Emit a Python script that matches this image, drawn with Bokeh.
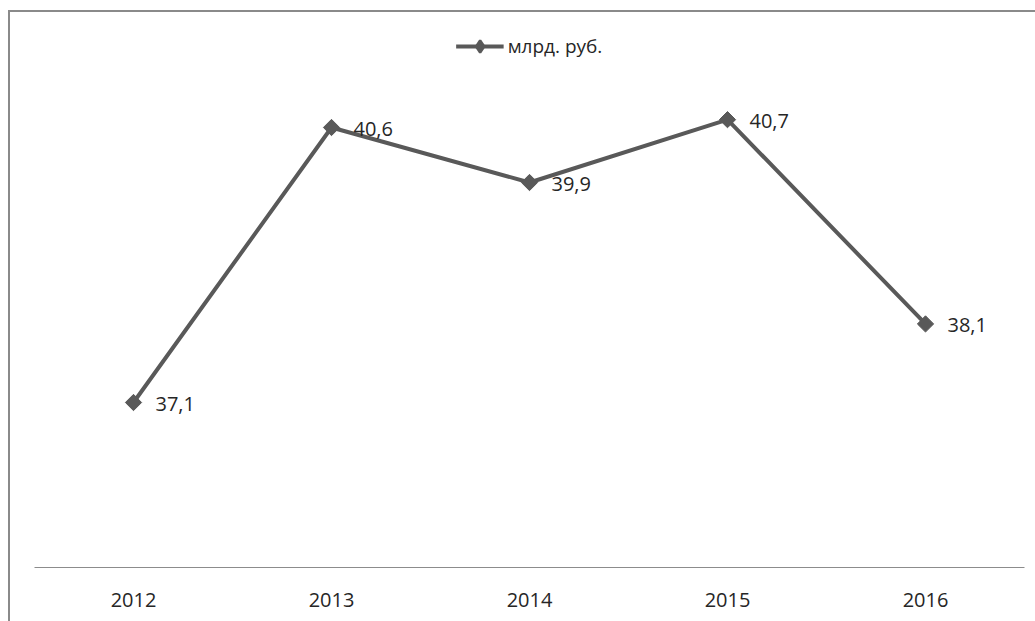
import math
from bokeh.plotting import figure
from bokeh.models import FactorRange, Range1d, ColumnDataSource, Legend, LegendItem
from bokeh.core.properties import value
from bokeh.embed import file_html
from bokeh.resources import INLINE

years = ["2012", "2013", "2014", "2015", "2016"]
values = [37.1, 40.6, 39.9, 40.7, 38.1]
labels = ["37,1", "40,6", "39,9", "40,7", "38,1"]
series_name = "млрд. руб."

src = ColumnDataSource(dict(x=years, y=values, t=labels))

FONT = "Open Sans"
COL = "#595959"

p = figure(width=1027, height=611, output_backend="svg", toolbar_location=None,
           x_range=FactorRange(*years, range_padding=0), y_range=Range1d(35, 42),
           min_border_left=24, min_border_right=13, min_border_top=5, min_border_bottom=56)
p.styles = {"border-top": "2px solid #8a8a8a", "border-left": "2px solid #8a8a8a",
            "margin-top": "10px", "margin-left": "8px"}
p.outline_line_color = None
p.xgrid.visible = False
p.ygrid.visible = False
p.yaxis.visible = False

ax = p.xaxis[0]
ax.axis_line_color = "#8c8c8c"
ax.axis_line_width = 1
ax.major_tick_line_color = None
ax.minor_tick_line_color = None
ax.major_label_standoff = 19
ax.major_label_text_font = FONT
ax.major_label_text_font_size = "20px"
ax.major_label_text_color = "#262626"

line_r = p.line("x", "y", source=src, line_color=COL, line_width=4)
p.scatter("x", "y", source=src, marker="square", angle=math.pi / 4, size=11.5,
          fill_color=COL, line_color=COL)
# legend-only diamond marker (legend ignores marker angle)
leg_marker = p.scatter("x", "y", source=src, marker="diamond", size=12,
                       fill_color=COL, line_color=COL, line_width=2.5, visible=False)

p.text("x", "y", text="t", source=src, x_offset=22, y_offset=1, text_baseline="middle",
       text_align="left", text_font=value(FONT), text_font_size="20px", text_color="#262626")

lg = Legend(items=[LegendItem(label=series_name, renderers=[line_r, leg_marker])],
            location="top_center", orientation="horizontal")
lg.border_line_color = None
lg.background_fill_alpha = 0
lg.glyph_width = 48
lg.glyph_height = 30
lg.label_height = 30
lg.label_text_font = FONT
lg.label_text_font_size = "19px"
lg.label_text_color = "#262626"
lg.label_standoff = 4
lg.margin = 14
lg.padding = 5
p.add_layout(lg, "center")

open("out.html", "w").write(file_html(p, INLINE))
